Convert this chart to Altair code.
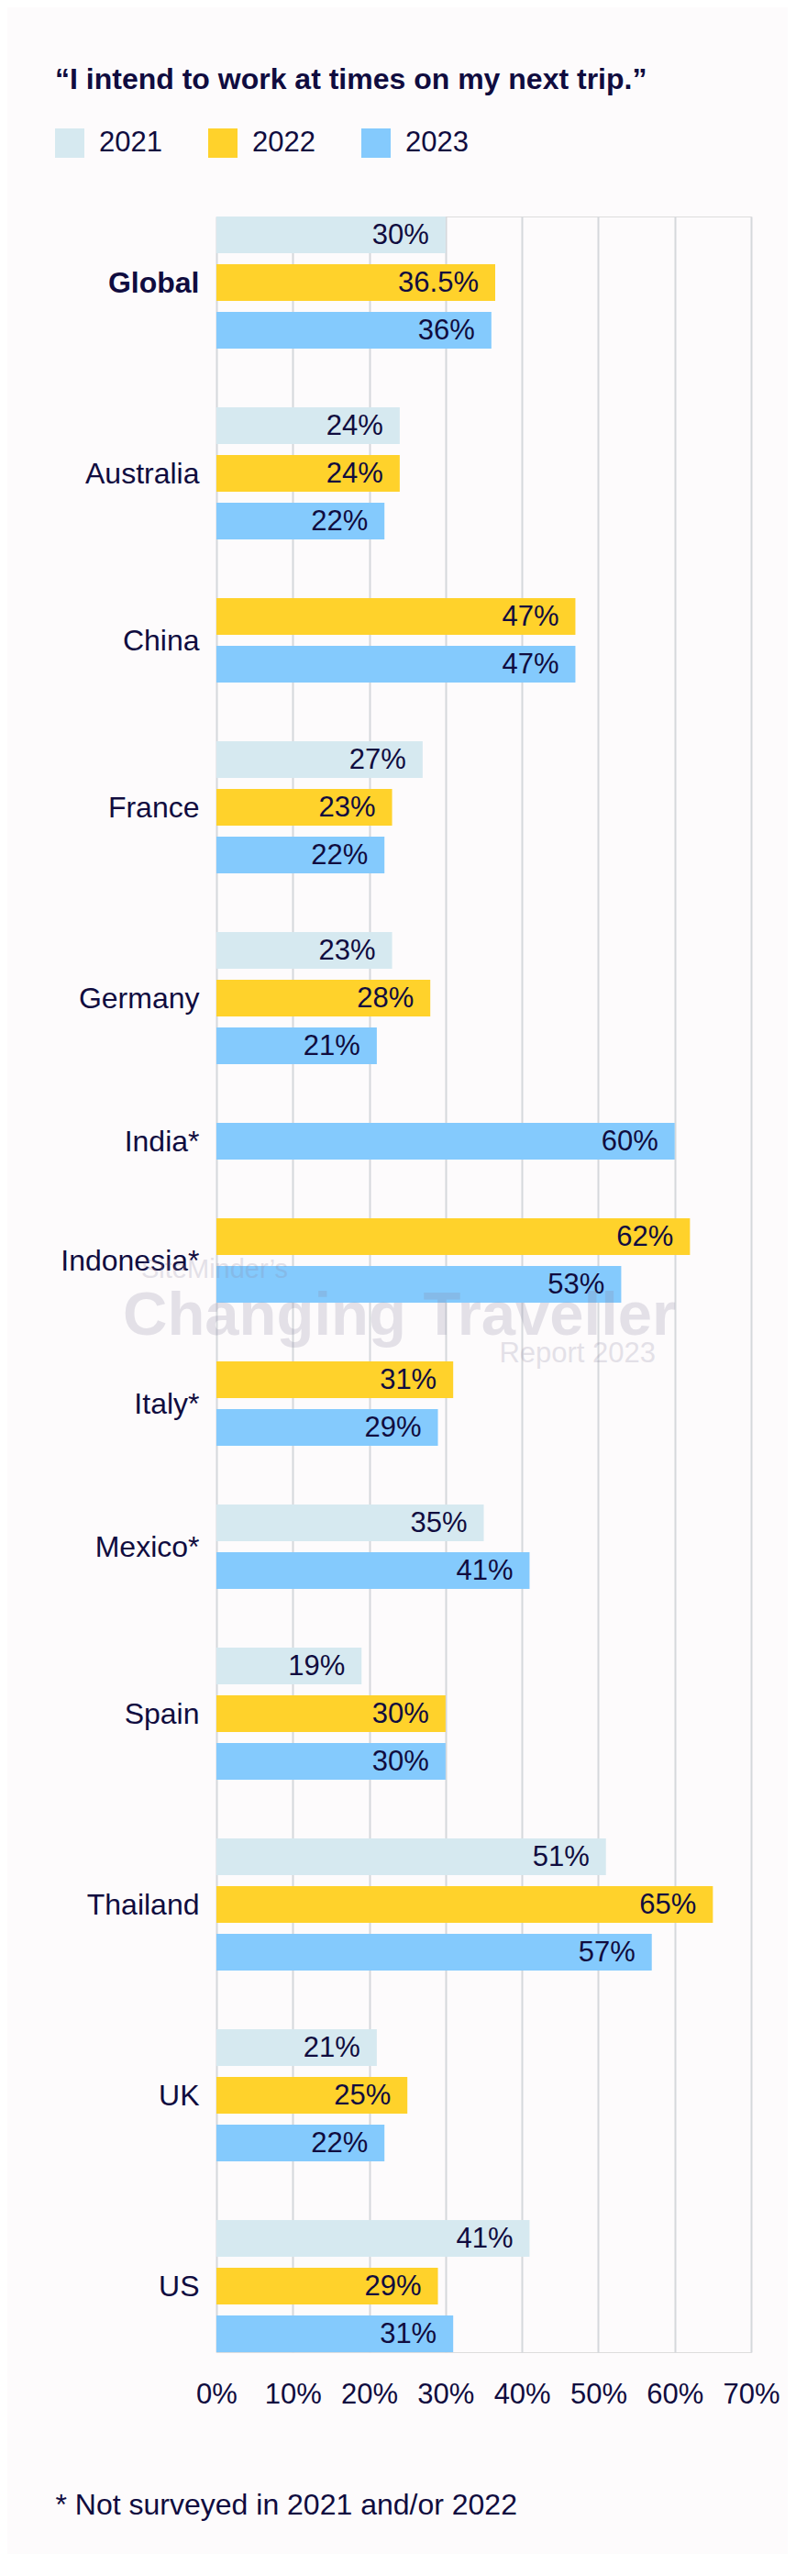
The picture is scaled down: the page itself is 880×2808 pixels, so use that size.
import json
import altair as alt
import pandas as pd

# ---------------- data ----------------
countries = ["Global", "Australia", "China", "France", "Germany", "India*", "Indonesia*",
             "Italy*", "Mexico*", "Spain", "Thailand", "UK", "US"]
years = ["2021", "2022", "2023"]
v2021 = [30, 24, None, 27, 23, None, None, None, 35, 19, 51, 21, 41]
v2022 = [36.5, 24, 47, 23, 28, None, 62, 31, None, 30, 65, 25, 29]
v2023 = [36, 22, 47, 22, 21, 60, 53, 29, 41, 30, 57, 22, 31]
tick_values = [0, 0.1, 0.2, 0.3, 0.4, 0.5, 0.6, 0.7]

title_text = "\u201cI intend to work at times on my next trip.\u201d"
footnote = "* Not surveyed in 2021 and/or 2022"
watermark = ["SiteMinder\u2019s", "Changing Traveller", "Report 2023"]

# ---------------- style ----------------
colors = ["#D6E9F0", "#FFD22B", "#84CAFD"]
NAVY = "#100C3F"
BG = "#FDFBFC"
GRID = "#D5D8DB"
FONT = "Liberation Sans"
WM = "#8A86A2"
WMO = 0.22
STEP = 52   # px per bar slot
BAR = 40    # bar thickness in px

# ---------------- table ----------------
rows, centers = [], []
slot = 0
for i, c in enumerate(countries):
    first = slot
    for yr, vals in zip(years, [v2021, v2022, v2023]):
        v = vals[i]
        if v is None:
            continue
        top = slot * STEP
        rows.append(dict(country=c, year=yr, value=v / 100, label=f"{v:g}%",
                         top=top, bottom=top + BAR, mid=top + BAR / 2))
        slot += 1
    centers.append(int((first * STEP + (slot - 1) * STEP + BAR) / 2))
    slot += 1  # spacer between groups
total = (slot - 2) * STEP + BAR
df = pd.DataFrame(rows)

label_expr = (json.dumps(countries) + "[indexof(" + json.dumps(centers) + ", datum.value)]")

xscale = alt.Scale(domain=[0, 0.7], nice=False, zero=True)
yscale = alt.Scale(domain=[0, total], reverse=True, nice=False, zero=False)

x_axis = alt.Axis(values=tick_values, format=".0%", orient="bottom",
                  grid=True, gridColor=GRID, gridWidth=2,
                  ticks=False, tickSize=0, domain=False,
                  labelPadding=31, labelFontSize=31, labelColor=NAVY, labelFont=FONT,
                  labelFlush=False, labelOverlap=False,
                  title=footnote, titleX=-176, titleY=176, titleAlign="left",
                  titleBaseline="alphabetic", titleFontSize=32, titleFontWeight="normal",
                  titleColor=NAVY, titleFont=FONT)

y_axis = alt.Axis(values=centers, labelExpr=label_expr, title=None,
                  ticks=False, tickSize=0, domain=False, grid=False,
                  labelPadding=19, labelFontSize=32, labelColor=NAVY, labelFont=FONT,
                  labelFontWeight={"condition": {"test": f"datum.value == {centers[0]}", "value": "bold"},
                                   "value": "normal"},
                  labelOverlap=False, labelFlush=False, labelBaseline="middle", labelLimit=400)

legend = alt.Legend(title=title_text, orient="none", legendX=-176, legendY=-164,
                    direction="horizontal", symbolType="square", symbolSize=1024,
                    symbolStrokeWidth=0, symbolOpacity=1,
                    labelFontSize=31, labelColor=NAVY, labelFont=FONT, labelOffset=16,
                    columnPadding=50, titleFontSize=32, titleFontWeight="bold",
                    titleColor=NAVY, titleFont=FONT, titleLimit=900, titlePadding=36)

base = alt.Chart(df)

bars = base.mark_rect().encode(
    x=alt.X("value:Q", scale=xscale, axis=x_axis),
    x2=alt.datum(0),
    y=alt.Y("top:Q", scale=yscale, axis=y_axis),
    y2="bottom:Q",
    color=alt.Color("year:N", scale=alt.Scale(domain=years, range=colors), legend=legend),
)

labels = base.mark_text(align="right", baseline="middle", dx=-18, dy=1,
                        fontSize=31, color=NAVY, font=FONT).encode(
    x=alt.X("value:Q", scale=xscale, axis=x_axis),
    y=alt.Y("mid:Q", scale=yscale, axis=y_axis),
    text="label:N",
)

wm1 = alt.Chart(pd.DataFrame({"t": [watermark[0]]})).mark_text(
    align="left", baseline="alphabetic", fontSize=29, font=FONT, color=WM, opacity=WMO
).encode(x=alt.value(-82), y=alt.value(1157), text="t:N")
wm2 = alt.Chart(pd.DataFrame({"t": [watermark[1]]})).mark_text(
    align="left", baseline="alphabetic", fontSize=67, fontWeight="bold", font=FONT,
    color=WM, opacity=WMO
).encode(x=alt.value(-102), y=alt.value(1219), text="t:N")
wm3 = alt.Chart(pd.DataFrame({"t": [watermark[2]]})).mark_text(
    align="right", baseline="alphabetic", fontSize=31, font=FONT, color=WM, opacity=WMO
).encode(x=alt.value(479), y=alt.value(1249), text="t:N")

chart = alt.layer(bars, labels, wm1, wm2, wm3).properties(
    width=583, height=total,
    padding={"left": 228, "top": 228, "right": 40, "bottom": 220},
    autosize=alt.AutoSizeParams(type="none"),
    background=BG,
).configure_view(stroke=None).configure(font=FONT)

chart.save("out.html", embed_options={"renderer": "svg", "actions": False})
